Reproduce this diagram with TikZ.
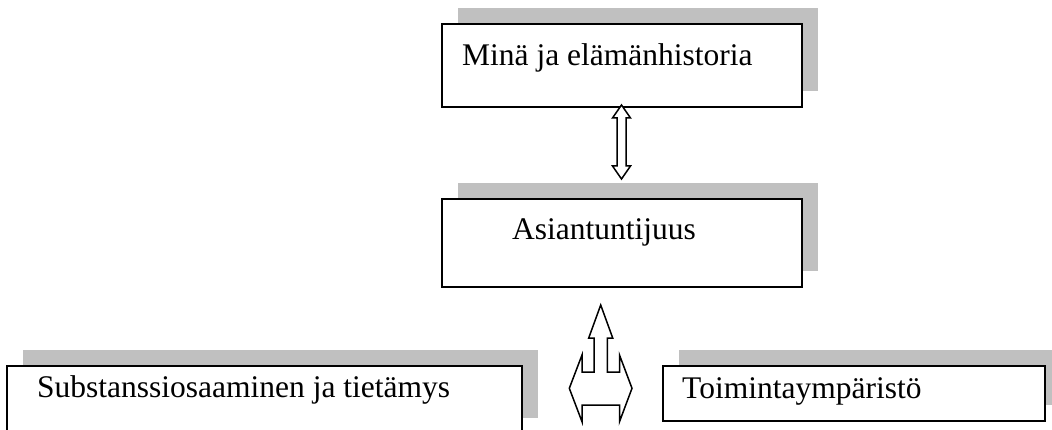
\documentclass[tikz,border=0pt]{standalone}
\usepackage{fontspec}
\setmainfont{Liberation Serif}
\usetikzlibrary{shadows}
\definecolor{shade}{HTML}{C0C0C0}
\tikzset{
  boxstyle/.style={draw=black, line width=2pt, fill=white, rectangle, inner sep=0pt,
    drop shadow={shadow xshift=16pt, shadow yshift=16pt, fill=shade, opacity=1}},
  boxtext/.style={anchor=base west, inner sep=0pt, font=\fontsize{31.5}{36}\selectfont},
  blockarrow/.style={draw=black, line width=1.5pt, fill=white, line join=miter}
}
\begin{document}
\begin{tikzpicture}[x=1pt, y=-1pt]
\useasboundingbox (0,0) rectangle (1052,430);
\clip (0,0) rectangle (1052,430);
% boxes
\node[boxstyle, minimum width=360pt, minimum height=83pt] (b1) at (622,65.5) {};
\node[boxstyle, minimum width=360pt, minimum height=88pt] (b2) at (622,243) {};
\node[boxstyle, minimum width=515pt, minimum height=68pt] (b3) at (264.5,400) {};
\node[boxstyle, minimum width=382pt, minimum height=55pt] (b4) at (854,393.5) {};
% texts
\node[boxtext] (t1) at (462,66) {Minä ja elämänhistoria};
\node[boxtext] (t2) at (512,240) {Asiantuntijuus};
\node[boxtext] (t3) at (37,397) {Substanssiosaaminen ja tietämys};
\node[boxtext] (t4) at (682,398) {Toimintaympäristö};
% double arrow between b1 and b2
\draw[blockarrow] (621.5,105) -- (630.5,118) -- (626,118) -- (626,166) -- (630.5,166)
  -- (621.5,179) -- (612.5,166) -- (617,166) -- (617,118) -- (612.5,118) -- cycle;
% three-way block arrow
\draw[blockarrow] (600.7,305) -- (612.7,338) -- (607.3,338) -- (607.3,372) -- (619.5,372)
  -- (619.5,355) -- (632,388.3) -- (619.5,421.7) -- (619.5,405) -- (582,405)
  -- (582,421.7) -- (569.3,388.3) -- (582,355) -- (582,372) -- (594,372)
  -- (594,338) -- (588.7,338) -- cycle;
\end{tikzpicture}
\end{document}
